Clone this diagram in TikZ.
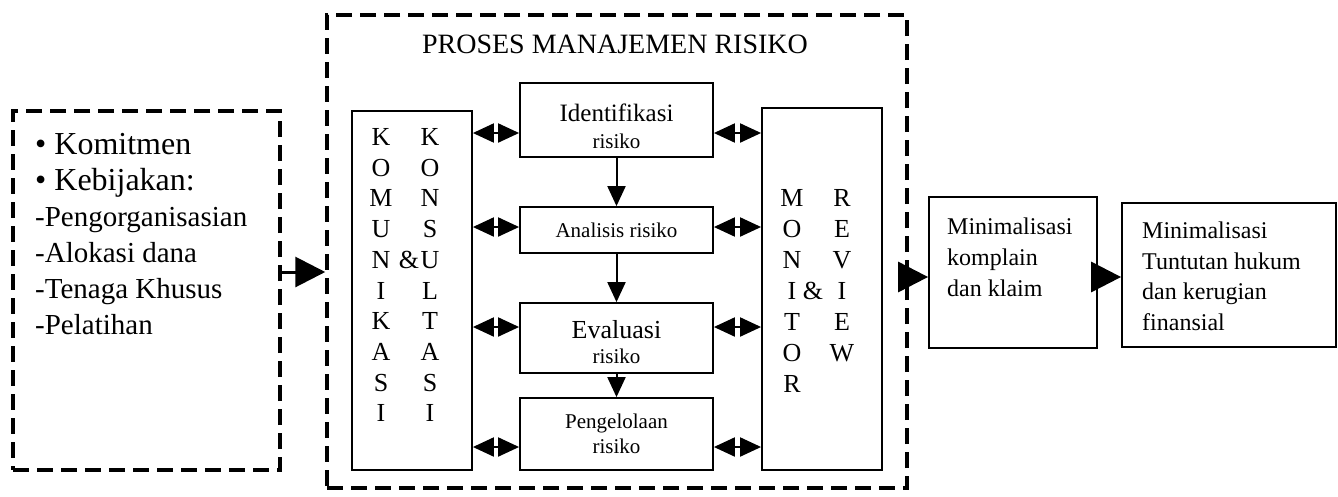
\documentclass[tikz,border=0pt]{standalone}
\usepackage{fontspec}
\setmainfont{Liberation Serif}
\usetikzlibrary{arrows.meta}
\begin{document}
\begin{tikzpicture}[x=1pt,y=-1pt,
  dashbox/.style={draw, line width=3.5pt, dash pattern=on 16pt off 8pt},
  plainbox/.style={draw, line width=1.8pt, inner sep=0pt},
  procbox/.style={plainbox, minimum width=193pt},
  proctext/.style={inner sep=0pt, align=center},
  letter/.style={inner sep=0pt, font=\fontsize{26}{26}\selectfont},
  dbl/.style={line width=2pt, {Triangle[length=21pt,width=19pt]}-{Triangle[length=21pt,width=19pt]}},
  down/.style={line width=2pt, -{Triangle[length=20pt,width=18pt]}},
  flow/.style={line width=3pt, -{Triangle[length=30pt,width=30pt]}}
]
\fill[white] (0,0) rectangle (1338,496);
\useasboundingbox (0,0) rectangle (1338,496);

% outer dashed frames
\node[dashbox, minimum width=267pt, minimum height=359pt] (policy) at (146.5,290.5) {};
\node[dashbox, minimum width=580pt, minimum height=473pt] (process) at (617,251.5) {};

% policy text
\node[anchor=north west, align=left, inner sep=0pt, font=\fontsize{29}{36}\selectfont] (policytext) at (35,133)
 {{\fontsize{32}{36}\selectfont\textbullet\ Komitmen}\\
  {\fontsize{32}{36}\selectfont\textbullet\ Kebijakan:}\\
  -Pengorganisasian\\
  -Alokasi dana\\
  -Tenaga Khusus\\
  -Pelatihan};

% title
\node[font=\fontsize{28}{28}\selectfont] (title) at (615,44) {PROSES MANAJEMEN RISIKO};

% side columns
\node[plainbox, minimum width=120pt, minimum height=359pt] (komu) at (412,290.5) {};
\node[plainbox, minimum width=120pt, minimum height=362pt] (moni) at (822,289) {};

\foreach \l [count=\i from 0] in {K,O,M,U,N,I,K,A,S,I}
  \node[letter] (ka-\i) at (381,{137+30.7*\i}) {\l};
\foreach \l [count=\i from 0] in {K,O,N,S,U,L,T,A,S,I}
  \node[letter] (kb-\i) at (430,{137+30.7*\i}) {\l};
\node[letter] (kamp) at (409,{137+30.7*4}) {\&};

\foreach \l [count=\i from 0] in {M,O,N,I,T,O,R}
  \node[letter] (ma-\i) at (792,{198+31*\i}) {\l};
\foreach \l [count=\i from 0] in {R,E,V,I,E,W}
  \node[letter] (mb-\i) at (842,{198+31*\i}) {\l};
\node[letter] (mamp) at (813,{198+31*3}) {\&};

% process steps
\node[procbox, minimum height=74pt] (ident) at (616.5,120) {};
\node[procbox, minimum height=46pt] (anal) at (616.5,230) {};
\node[procbox, minimum height=70pt] (eval) at (616.5,338) {};
\node[procbox, minimum height=72pt] (peng) at (616.5,434) {};

\node[proctext, font=\fontsize{21}{27}\selectfont] (identtext) at ([yshift=-6pt]ident.center)
  {{\fontsize{25}{27}\selectfont Identifikasi}\\risiko};
\node[proctext, font=\fontsize{21}{22}\selectfont] (analtext) at (anal.center) {Analisis risiko};
\node[proctext, font=\fontsize{21}{25}\selectfont] (evaltext) at ([yshift=-4pt]eval.center)
  {{\fontsize{26}{25}\selectfont Evaluasi}\\risiko};
\node[proctext, font=\fontsize{21}{25}\selectfont] (pengtext) at (peng.center)
  {Pengelolaan\\risiko};

\draw[down] (ident) -- (anal);
\draw[down] (anal) -- (eval);
\draw[down] (eval) -- (peng);

% communication with each step
\foreach \b/\y in {ident/133, anal/227, eval/327, peng/447}{
  \draw[dbl] (komu.east |- {0,\y}) -- (\b.west |- {0,\y});
  \draw[dbl] (\b.east |- {0,\y}) -- (moni.west |- {0,\y});
}

% outcomes
\node[plainbox, minimum width=168pt, minimum height=151pt] (komplain) at (1013,272.5) {};
\node[anchor=north west, align=left, inner sep=0pt, font=\fontsize{24}{31}\selectfont] (komplaintext) at (947,218)
  {Minimalisasi\\komplain\\dan klaim};
\node[plainbox, minimum width=214pt, minimum height=144pt] (tuntut) at (1229,275) {};
\node[anchor=north west, align=left, inner sep=0pt, font=\fontsize{24}{30.5}\selectfont] (tuntuttext) at (1142,222)
  {Minimalisasi\\Tuntutan hukum\\dan kerugian\\finansial};

\draw[flow] (policy.east |- {0,272}) -- (process.west |- {0,272});
\draw[flow] (process.east |- {0,277}) -- (komplain.west |- {0,277});
\draw[flow] (komplain.east |- {0,277}) -- (tuntut.west |- {0,277});
\end{tikzpicture}
\end{document}
